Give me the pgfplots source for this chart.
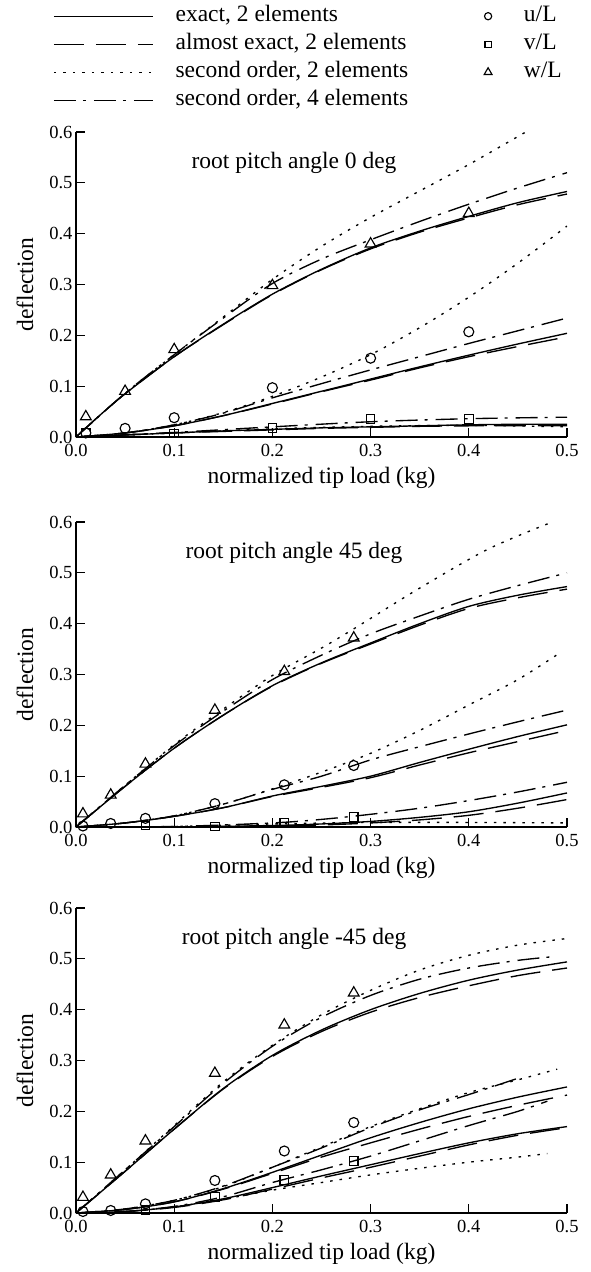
\documentclass[border=0pt]{standalone}
\usepackage{fontspec}
\setmainfont{Liberation Serif}
\usepackage{pgfplots}
\pgfplotsset{compat=1.18}

\newcommand\ticksize{\fontsize{18.5pt}{20pt}\selectfont}
\newcommand\labsize{\fontsize{23.5pt}{26pt}\selectfont}

\pgfplotsset{
  exact/.style={black, line width=1.35pt, solid, smooth},
  almost/.style={black, line width=1.35pt, dash pattern=on 30pt off 12pt, smooth},
  sotwo/.style={black, line width=1.35pt, dash pattern=on 2.5pt off 7pt, smooth},
  sofour/.style={black, line width=1.35pt, dash pattern=on 22pt off 7pt on 3pt off 8pt, smooth},
  uL/.style={black, only marks, mark=o, mark size=5pt, mark options={line width=1.15pt, solid}},
  vL/.style={black, only marks, mark=square, mark size=4.3pt, mark options={line width=1.15pt, solid}},
  wL/.style={black, only marks, mark=triangle, mark size=6.2pt, mark options={line width=1.15pt, solid}},
  legline/.style={legend image code/.code={\draw (0pt,0pt) -- (99pt,0pt);}},
  legmark/.style={legend image code/.code={\draw[every mark/.append style={scale=0.72}] plot coordinates {(0pt,0pt)};}},
  panel/.style={
    scale only axis, width=491pt, height=305pt,
    anchor=south west,
    xmin=0, xmax=0.5, ymin=0, ymax=0.6,
    axis x line*=bottom, axis y line*=left,
    axis line style={line width=2.4pt},
    xtick={0,0.1,0.2,0.3,0.4,0.5},
    ytick={0,0.1,0.2,0.3,0.4,0.5,0.6},
    tick align=inside, major tick length=9pt,
    every tick/.style={black, line width=1.2pt},
    ticklabel style={font=\ticksize},
    xticklabel style={yshift=-4pt},
    /pgf/number format/fixed,
    /pgf/number format/fixed zerofill,
    /pgf/number format/precision=1,
    /pgf/number format/assume math mode=true,
    xlabel={normalized tip load (kg)},
    ylabel={deflection},
    every axis x label/.style={at={(axis description cs:0.5,0)}, anchor=center, yshift=-41pt, font=\labsize},
    every axis y label/.style={at={(axis description cs:-0.104,0.5)}, anchor=center, rotate=90, font=\labsize},
  },
}

\begin{document}
\begin{tikzpicture}
\useasboundingbox (0,0) rectangle (590pt,-1272pt);

% ---------------- root pitch angle 0 deg ----------------
\begin{axis}[panel, at={(76pt,-437pt)},
  legend columns=2,
  legend cell align=left,
  legend style={at={(axis description cs:-0.0468,1.4164)}, anchor=north west,
    draw=none, fill=none, font=\labsize, inner sep=0pt, row sep=6pt,
    nodes={inner sep=0pt, text height=16pt, text depth=6pt},
    /tikz/column 1/.style={column sep=22pt},
    /tikz/column 2/.style={column sep=76pt},
    /tikz/column 3/.style={column sep=32pt}}]
\addlegendimage{exact, legline}
\addlegendentry{exact, 2 elements}
\addlegendimage{uL, legmark}
\addlegendentry{u/L}
\addlegendimage{almost, legline}
\addlegendentry{almost exact, 2 elements}
\addlegendimage{vL, legmark}
\addlegendentry{v/L}
\addlegendimage{sotwo, legline}
\addlegendentry{second order, 2 elements}
\addlegendimage{wL, legmark}
\addlegendentry{w/L}
\addlegendimage{sofour, legline}
\addlegendentry{second order, 4 elements}

% w/L
\addplot[exact] coordinates {(0,0)(0.025,0.044)(0.05,0.085)(0.1,0.158)(0.15,0.222)(0.2,0.281)(0.25,0.330)(0.3,0.372)(0.35,0.405)(0.4,0.434)(0.45,0.461)(0.5,0.483)};
\addplot[almost] coordinates {(0,0)(0.025,0.044)(0.05,0.085)(0.1,0.158)(0.15,0.221)(0.2,0.280)(0.25,0.329)(0.3,0.370)(0.35,0.403)(0.4,0.431)(0.45,0.457)(0.5,0.478)};
\addplot[sotwo] coordinates {(0,0)(0.05,0.086)(0.1,0.162)(0.15,0.236)(0.2,0.31)(0.25,0.375)(0.3,0.432)(0.35,0.484)(0.4,0.536)(0.458,0.6)};
\addplot[sofour] coordinates {(0,0)(0.05,0.086)(0.1,0.162)(0.15,0.234)(0.2,0.302)(0.25,0.35)(0.3,0.388)(0.35,0.424)(0.4,0.458)(0.45,0.49)(0.5,0.52)};
% u/L
\addplot[exact] coordinates {(0,0)(0.05,0.008)(0.1,0.022)(0.15,0.042)(0.2,0.066)(0.25,0.09)(0.3,0.114)(0.35,0.138)(0.4,0.161)(0.45,0.183)(0.5,0.204)};
\addplot[almost] coordinates {(0,0)(0.05,0.008)(0.1,0.022)(0.15,0.042)(0.2,0.065)(0.25,0.089)(0.3,0.112)(0.35,0.136)(0.4,0.158)(0.45,0.178)(0.5,0.197)};
\addplot[sotwo] coordinates {(0,0)(0.05,0.008)(0.1,0.024)(0.15,0.048)(0.2,0.08)(0.25,0.118)(0.3,0.162)(0.35,0.215)(0.4,0.275)(0.45,0.342)(0.5,0.415)};
\addplot[sofour] coordinates {(0,0)(0.05,0.008)(0.1,0.024)(0.15,0.047)(0.2,0.077)(0.25,0.105)(0.3,0.132)(0.35,0.158)(0.4,0.184)(0.45,0.209)(0.5,0.234)};
% v/L
\addplot[exact] coordinates {(0,0)(0.05,0.004)(0.1,0.008)(0.15,0.012)(0.2,0.015)(0.25,0.018)(0.3,0.02)(0.35,0.022)(0.4,0.024)(0.45,0.025)(0.5,0.025)};
\addplot[almost] coordinates {(0,0)(0.05,0.004)(0.1,0.008)(0.15,0.011)(0.2,0.014)(0.25,0.017)(0.3,0.019)(0.35,0.021)(0.4,0.022)(0.45,0.022)(0.5,0.022)};
\addplot[sotwo] coordinates {(0,0)(0.1,0.008)(0.2,0.016)(0.3,0.021)(0.4,0.023)(0.5,0.02)};
\addplot[sofour] coordinates {(0,0)(0.1,0.009)(0.2,0.02)(0.3,0.03)(0.4,0.036)(0.5,0.039)};
% measured
\addplot[uL] coordinates {(0.01,0.008)(0.05,0.017)(0.1,0.038)(0.2,0.097)(0.3,0.155)(0.4,0.207)};
\addplot[vL] coordinates {(0.01,0.008)(0.1,0.007)(0.2,0.018)(0.3,0.035)(0.4,0.035)};
\addplot[wL] coordinates {(0.01,0.04)(0.05,0.09)(0.1,0.172)(0.2,0.298)(0.3,0.38)(0.4,0.44)};
\node[font=\labsize] at (axis cs:0.222,0.54) {root pitch angle 0 deg};
\end{axis}

% ---------------- root pitch angle 45 deg ----------------
\begin{axis}[panel, at={(76pt,-827pt)}]
% w/L
\addplot[exact] coordinates {(0,0)(0.05,0.08)(0.1,0.155)(0.15,0.22)(0.2,0.278)(0.25,0.323)(0.3,0.362)(0.35,0.4)(0.4,0.434)(0.45,0.456)(0.5,0.473)};
\addplot[almost] coordinates {(0,0)(0.05,0.08)(0.1,0.155)(0.15,0.22)(0.2,0.277)(0.25,0.322)(0.3,0.36)(0.35,0.397)(0.4,0.43)(0.45,0.451)(0.5,0.468)};
\addplot[sotwo] coordinates {(0,0)(0.05,0.082)(0.1,0.162)(0.15,0.232)(0.2,0.298)(0.25,0.352)(0.283,0.39)(0.35,0.47)(0.42,0.547)(0.485,0.6)};
\addplot[sofour] coordinates {(0,0)(0.05,0.082)(0.1,0.16)(0.15,0.228)(0.2,0.29)(0.25,0.338)(0.3,0.38)(0.35,0.415)(0.4,0.448)(0.45,0.475)(0.5,0.5)};
% u/L
\addplot[exact] coordinates {(0,0)(0.05,0.008)(0.1,0.021)(0.15,0.038)(0.2,0.061)(0.25,0.08)(0.3,0.1)(0.35,0.127)(0.4,0.153)(0.45,0.178)(0.5,0.201)};
\addplot[almost] coordinates {(0,0)(0.05,0.008)(0.1,0.021)(0.15,0.038)(0.2,0.06)(0.25,0.078)(0.3,0.097)(0.35,0.122)(0.4,0.146)(0.45,0.168)(0.5,0.19)};
\addplot[sotwo] coordinates {(0,0)(0.05,0.008)(0.1,0.022)(0.15,0.045)(0.2,0.075)(0.25,0.108)(0.3,0.145)(0.35,0.19)(0.4,0.24)(0.45,0.29)(0.49,0.339)};
\addplot[sofour] coordinates {(0,0)(0.05,0.008)(0.1,0.022)(0.15,0.045)(0.2,0.074)(0.25,0.1)(0.3,0.132)(0.35,0.158)(0.4,0.183)(0.45,0.207)(0.5,0.23)};
% v/L
\addplot[exact] coordinates {(0,0)(0.1,0.0)(0.2,0.003)(0.25,0.006)(0.3,0.011)(0.35,0.019)(0.4,0.03)(0.45,0.047)(0.5,0.067)};
\addplot[almost] coordinates {(0,0)(0.1,0.0)(0.2,0.002)(0.25,0.004)(0.3,0.008)(0.35,0.014)(0.4,0.023)(0.45,0.037)(0.5,0.054)};
\addplot[sotwo] coordinates {(0,0)(0.1,0.001)(0.2,0.006)(0.3,0.009)(0.4,0.009)(0.5,0.008)};
\addplot[sofour] coordinates {(0,0)(0.1,0.001)(0.2,0.008)(0.25,0.015)(0.3,0.025)(0.35,0.037)(0.4,0.052)(0.45,0.069)(0.5,0.088)};
% measured
\addplot[uL] coordinates {(0.00707,0.002)(0.03536,0.007)(0.07071,0.017)(0.14142,0.046)(0.21213,0.083)(0.28284,0.121)};
\addplot[vL] coordinates {(0.07071,0.003)(0.14142,0.001)(0.21213,0.008)(0.28284,0.02)};
\addplot[wL] coordinates {(0.00707,0.026)(0.03536,0.063)(0.07071,0.124)(0.14142,0.23)(0.21213,0.306)(0.28284,0.372)};
\node[font=\labsize] at (axis cs:0.222,0.54) {root pitch angle 45 deg};
\end{axis}

% ---------------- root pitch angle -45 deg ----------------
\begin{axis}[panel, at={(76pt,-1213pt)}]
% w/L
\addplot[exact] coordinates {(0,0)(0.05,0.082)(0.1,0.165)(0.15,0.245)(0.2,0.31)(0.25,0.36)(0.3,0.4)(0.35,0.432)(0.4,0.458)(0.45,0.478)(0.5,0.494)};
\addplot[almost] coordinates {(0,0)(0.05,0.082)(0.1,0.165)(0.15,0.244)(0.2,0.308)(0.25,0.357)(0.3,0.395)(0.35,0.424)(0.4,0.447)(0.45,0.467)(0.5,0.482)};
\addplot[sotwo] coordinates {(0,0)(0.05,0.085)(0.1,0.172)(0.15,0.258)(0.2,0.33)(0.25,0.39)(0.3,0.438)(0.35,0.478)(0.4,0.507)(0.45,0.527)(0.5,0.54)};
\addplot[sofour] coordinates {(0,0)(0.05,0.085)(0.1,0.17)(0.15,0.255)(0.2,0.328)(0.25,0.385)(0.3,0.428)(0.35,0.46)(0.4,0.482)(0.45,0.497)(0.49,0.505)};
% u/L
\addplot[exact] coordinates {(0,0)(0.05,0.007)(0.1,0.022)(0.15,0.048)(0.2,0.08)(0.25,0.114)(0.3,0.148)(0.35,0.178)(0.4,0.205)(0.45,0.228)(0.5,0.248)};
\addplot[almost] coordinates {(0,0)(0.05,0.007)(0.1,0.022)(0.15,0.047)(0.2,0.078)(0.25,0.11)(0.3,0.138)(0.35,0.165)(0.4,0.19)(0.45,0.212)(0.5,0.232)};
\addplot[sotwo] coordinates {(0,0)(0.05,0.008)(0.1,0.025)(0.15,0.052)(0.2,0.09)(0.25,0.13)(0.3,0.17)(0.35,0.205)(0.4,0.237)(0.45,0.262)(0.49,0.283)};
\addplot[sofour] coordinates {(0,0)(0.05,0.008)(0.1,0.025)(0.15,0.053)(0.2,0.09)(0.25,0.128)(0.3,0.168)(0.35,0.203)(0.4,0.233)(0.45,0.265)};
% v/L
\addplot[exact] coordinates {(0,0)(0.05,0.003)(0.1,0.012)(0.15,0.028)(0.2,0.05)(0.25,0.073)(0.3,0.095)(0.35,0.117)(0.4,0.138)(0.45,0.156)(0.5,0.17)};
\addplot[almost] coordinates {(0,0)(0.05,0.003)(0.1,0.011)(0.15,0.026)(0.2,0.047)(0.25,0.069)(0.3,0.09)(0.35,0.112)(0.4,0.134)(0.45,0.153)(0.5,0.168)};
\addplot[sotwo] coordinates {(0,0)(0.05,0.003)(0.1,0.012)(0.15,0.027)(0.2,0.045)(0.25,0.06)(0.3,0.075)(0.35,0.088)(0.4,0.1)(0.45,0.11)(0.48,0.117)};
\addplot[sofour] coordinates {(0,0)(0.05,0.003)(0.1,0.013)(0.15,0.032)(0.2,0.06)(0.25,0.085)(0.3,0.112)(0.35,0.142)(0.4,0.172)(0.45,0.2)(0.48,0.22)};
% measured
\addplot[uL] coordinates {(0.00707,0.003)(0.03536,0.005)(0.07071,0.018)(0.14142,0.064)(0.21213,0.122)(0.28284,0.178)};
\addplot[vL] coordinates {(0.07071,0.006)(0.14142,0.032)(0.21213,0.065)(0.28284,0.102)};
\addplot[wL] coordinates {(0.00707,0.031)(0.03536,0.075)(0.07071,0.142)(0.14142,0.275)(0.21213,0.37)(0.28284,0.433)};
\node[font=\labsize] at (axis cs:0.222,0.54) {root pitch angle -45 deg};
\end{axis}
\end{tikzpicture}
\end{document}
